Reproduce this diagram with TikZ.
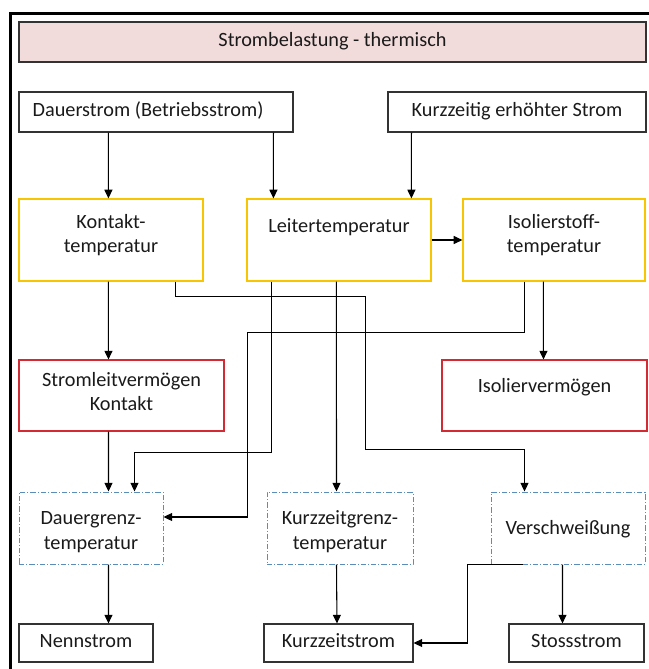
\documentclass[tikz,border=0pt]{standalone}
\usepackage{fontspec}
\setmainfont{Carlito}
\usetikzlibrary{arrows.meta,calc}
\definecolor{ybord}{HTML}{F7C600}
\definecolor{rbord}{HTML}{D42A34}
\definecolor{dbord}{HTML}{5B8DB8}
\definecolor{kbord}{HTML}{333333}
\definecolor{tfill}{HTML}{F2DCDB}
\definecolor{txtc}{HTML}{1A1A1A}
\begin{document}
\begin{tikzpicture}[x=0.75pt,y=-0.75pt,
  box/.style={draw=kbord, line width=0.8pt, inner sep=0pt},
  ybox/.style={draw=ybord, line width=0.9pt, inner sep=0pt},
  rbox/.style={draw=rbord, line width=0.8pt, inner sep=0pt},
  dbox/.style={draw=dbord, line width=0.75pt, inner sep=0pt,
    dash pattern=on 4pt off 1.5pt on 0.8pt off 1.5pt},
  txt/.style={font=\fontsize{15.2}{18.5}\selectfont, text=txtc, align=center,
    inner sep=0pt, execute at begin node=\strut, execute at end node=\strut},
  arr/.style={draw=black, line width=0.8pt, -{Triangle[length=6.5pt,width=6pt]}}]
\useasboundingbox (0,0) rectangle (649,669);
% outer frame
\draw[line width=1.6pt] (10.5,669) -- (10.5,13.5) -- (649,13.5);
% boxes
\node[box, fill=tfill, minimum width=470.25pt, minimum height=30pt] (title) at (332.5,42) {};
\node[box, minimum width=205.5pt, minimum height=30pt] (dauer) at (156,112) {};
\node[box, minimum width=193.5pt, minimum height=30pt] (kurz) at (517,112) {};
\node[ybox, minimum width=138pt, minimum height=61.5pt] (kontakt) at (111,240) {};
\node[ybox, minimum width=138pt, minimum height=61.5pt] (leiter) at (339,240) {};
\node[ybox, minimum width=136.5pt, minimum height=61.5pt] (isolst) at (554,240) {};
\node[rbox, minimum width=153.75pt, minimum height=53.25pt] (stromleit) at (121.5,395.5) {};
\node[rbox, minimum width=153.75pt, minimum height=53.25pt] (isolverm) at (544.5,395.5) {};
\node[dbox, minimum width=108pt, minimum height=54pt] (dauergrenz) at (91,528) {};
\node[dbox, minimum width=109.5pt, minimum height=54pt] (kurzgrenz) at (340,528) {};
\node[dbox, minimum width=115.5pt, minimum height=54pt] (verschw) at (568,528) {};
\node[box, minimum width=100.5pt, minimum height=28.5pt] (nenn) at (86,643) {};
\node[box, minimum width=111.75pt, minimum height=28.5pt] (kurzstrom) at (338.5,643) {};
\node[box, minimum width=101.25pt, minimum height=28.5pt] (stoss) at (576.5,643) {};
% texts
\node[txt] (t-title) at (332.5,42) {Strombelastung - thermisch};
\node[txt] (t-dauer) at (148,112) {Dauerstrom (Betriebsstrom)};
\node[txt] (t-kurz) at (517,112) {Kurzzeitig erhöhter Strom};
\node[txt] (t-kontakt) at (111,237) {Kontakt-\\temperatur};
\node[txt] (t-leiter) at (339,228) {Leitertemperatur};
\node[txt] (t-isolst) at (554,237) {Isolierstoff-\\temperatur};
\node[txt] (t-stromleit) at (121.5,395) {Stromleitvermögen\\Kontakt};
\node[txt] (t-isolverm) at (544.5,388) {Isoliervermögen};
\node[txt] (t-dauergrenz) at (91,534) {Dauergrenz-\\temperatur};
\node[txt] (t-kurzgrenz) at (340,534) {Kurzzeitgrenz-\\temperatur};
\node[txt] (t-verschw) at (568,530) {Verschweißung};
\node[txt] (t-nenn) at (86,643) {Nennstrom};
\node[txt] (t-kurzstrom) at (338.5,643) {Kurzzeitstrom};
\node[txt] (t-stoss) at (576.5,643) {Stossstrom};
% connectors
\draw[arr] ($(dauer.south west)+(90,0)$) -- ($(kontakt.north west)+(90,0)$);
\draw[arr] ($(dauer.south west)+(255,0)$) -- ($(leiter.north west)+(27,0)$);
\draw[arr] ($(kurz.south west)+(24,0)$) -- ($(leiter.north west)+(165,0)$);
\draw[arr] (leiter.east) -- (isolst.west);
\draw[arr] ($(kontakt.south west)+(90,0)$) -- ($(stromleit.north west)+(90,0)$);
\draw[arr] ($(isolst.south west)+(81,0)$) -- ($(isolverm.north west)+(102,0)$);
\draw[arr] ($(stromleit.south west)+(90,0)$) -- ($(dauergrenz.north west)+(90,0)$);
\draw[arr] ($(leiter.south west)+(25,0)$) -- ++(0,171) -| ($(dauergrenz.north west)+(116,0)$);
\draw[arr] ($(isolst.south west)+(62,0)$) -- ++(0,51) -- ++(-277,0) |- ($(dauergrenz.east)+(0,-11)$);
\draw[arr] ($(kontakt.south west)+(157,0)$) -- ++(0,15) -- ++(190,0) -- ++(0,153) -| ($(verschw.north west)+(34,0)$);
\draw[arr] ($(leiter.south west)+(90,0)$) -- ($(kurzgrenz.north west)+(70,0)$);
\draw[arr] ($(kurzgrenz.south west)+(70,0)$) -- ($(kurzstrom.north west)+(73.5,0)$);
\draw[arr] ($(dauergrenz.south west)+(90,0)$) -- ($(nenn.north west)+(90,0)$);
\draw[arr] ($(verschw.south west)+(72,0)$) -- ($(stoss.north west)+(54,0)$);
\draw[arr] ($(verschw.south west)+(32,0)$) -- ++(-55,0) |- (kurzstrom.east);
\end{tikzpicture}
\end{document}
